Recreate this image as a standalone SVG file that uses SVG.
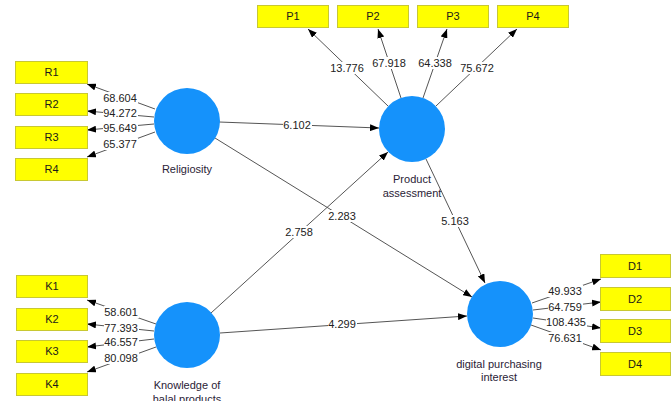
<svg xmlns="http://www.w3.org/2000/svg" width="671" height="401" viewBox="0 0 671 401">
<style>
.ind rect{fill:#ffff00;stroke:#c8c832;stroke-width:1}
.ind text{font-family:"Liberation Sans",Arial,sans-serif;font-size:11px;fill:#1a1a1a;text-anchor:middle}
.lv circle{fill:#1592fb}
.lv text{font-family:"Liberation Sans",Arial,sans-serif;font-size:11px;fill:#2a2236;text-anchor:middle}
.c line{stroke:#555;stroke-width:1;marker-end:url(#ah)}
.lb rect{fill:#fff}
.lb text{font-family:"Liberation Sans",Arial,sans-serif;font-size:11px;fill:#222;text-anchor:middle}
</style>
<defs>
<marker id="ah" markerUnits="userSpaceOnUse" markerWidth="9" markerHeight="7" refX="9" refY="3.5" orient="auto">
<path d="M0,0 L9,3.5 L0,7 z" fill="#000"/>
</marker>
</defs>
<rect width="671" height="401" fill="#fff"/>
<g id="connectors" class="c">
<line x1="155" y1="109" x2="87" y2="84"/>
<line x1="154" y1="117" x2="87" y2="111"/>
<line x1="154" y1="124" x2="87" y2="130"/>
<line x1="155" y1="132" x2="87" y2="157"/>
<line x1="156" y1="324" x2="87" y2="300"/>
<line x1="154" y1="331" x2="87" y2="324"/>
<line x1="154" y1="339" x2="87" y2="347"/>
<line x1="156" y1="347" x2="87" y2="372"/>
<line x1="388" y1="106" x2="308" y2="29"/>
<line x1="401" y1="98" x2="378" y2="29"/>
<line x1="423" y1="98" x2="447" y2="29"/>
<line x1="436" y1="106" x2="517" y2="29"/>
<line x1="532" y1="303" x2="601" y2="279"/>
<line x1="533" y1="310" x2="601" y2="302"/>
<line x1="533" y1="318" x2="601" y2="328"/>
<line x1="531" y1="325" x2="601" y2="350"/>
<line x1="219" y1="122" x2="379" y2="128"/>
<line x1="215" y1="138" x2="472" y2="297"/>
<line x1="211" y1="313" x2="388" y2="152"/>
<line x1="426" y1="159" x2="485" y2="283"/>
<line x1="220" y1="333" x2="467" y2="316"/>
</g>
<g id="labels" class="lb">
<rect x="103" y="92" width="35" height="12"/><text x="120" y="102">68.604</text>
<rect x="103" y="107" width="35" height="12"/><text x="120" y="117">94.272</text>
<rect x="103" y="122" width="35" height="12"/><text x="120" y="132">95.649</text>
<rect x="103" y="138" width="35" height="12"/><text x="120" y="148">65.377</text>
<rect x="104" y="306" width="35" height="12"/><text x="121" y="316">58.601</text>
<rect x="104" y="322" width="35" height="12"/><text x="121" y="332">77.393</text>
<rect x="104" y="336" width="35" height="12"/><text x="121" y="346">46.557</text>
<rect x="104" y="352" width="35" height="12"/><text x="121" y="362">80.098</text>
<rect x="330" y="62" width="35" height="12"/><text x="347" y="72">13.776</text>
<rect x="372" y="57" width="35" height="12"/><text x="389" y="67">67.918</text>
<rect x="418" y="57" width="35" height="12"/><text x="435" y="67">64.338</text>
<rect x="460" y="62" width="35" height="12"/><text x="477" y="72">75.672</text>
<rect x="548" y="285" width="35" height="12"/><text x="565" y="295">49.933</text>
<rect x="548" y="301" width="35" height="12"/><text x="565" y="311">64.759</text>
<rect x="546" y="316" width="41" height="12"/><text x="566" y="326">108.435</text>
<rect x="548" y="332" width="35" height="12"/><text x="565" y="342">76.631</text>
<rect x="283" y="119" width="29" height="12"/><text x="297" y="129">6.102</text>
<rect x="328" y="210" width="29" height="12"/><text x="342" y="220">2.283</text>
<rect x="285" y="226" width="29" height="12"/><text x="299" y="236">2.758</text>
<rect x="441" y="215" width="29" height="12"/><text x="455" y="225">5.163</text>
<rect x="328" y="318" width="29" height="12"/><text x="342" y="328">4.299</text>
</g>
<g id="R1" class="ind"><rect x="15.5" y="61.5" width="72" height="22"/><text x="51.5" y="76">R1</text></g>
<g id="R2" class="ind"><rect x="15.5" y="93.5" width="72" height="22"/><text x="51.5" y="108">R2</text></g>
<g id="R3" class="ind"><rect x="15.5" y="126.5" width="72" height="22"/><text x="51.5" y="141">R3</text></g>
<g id="R4" class="ind"><rect x="15.5" y="158.5" width="72" height="22"/><text x="51.5" y="173">R4</text></g>
<g id="K1" class="ind"><rect x="16.5" y="275.5" width="71" height="22"/><text x="52" y="290">K1</text></g>
<g id="K2" class="ind"><rect x="16.5" y="308.5" width="71" height="22"/><text x="52" y="323">K2</text></g>
<g id="K3" class="ind"><rect x="16.5" y="340.5" width="71" height="22"/><text x="52" y="355">K3</text></g>
<g id="K4" class="ind"><rect x="16.5" y="373.5" width="71" height="22"/><text x="52" y="388">K4</text></g>
<g id="P1" class="ind"><rect x="257.5" y="5.5" width="71" height="22"/><text x="293" y="20">P1</text></g>
<g id="P2" class="ind"><rect x="337.5" y="5.5" width="71" height="22"/><text x="373" y="20">P2</text></g>
<g id="P3" class="ind"><rect x="417.5" y="5.5" width="71" height="22"/><text x="453" y="20">P3</text></g>
<g id="P4" class="ind"><rect x="497.5" y="5.5" width="71" height="22"/><text x="533" y="20">P4</text></g>
<g id="D1" class="ind"><rect x="600.5" y="254.5" width="70" height="23"/><text x="635" y="270">D1</text></g>
<g id="D2" class="ind"><rect x="600.5" y="287.5" width="70" height="23"/><text x="635" y="303">D2</text></g>
<g id="D3" class="ind"><rect x="600.5" y="319.5" width="70" height="23"/><text x="635" y="335">D3</text></g>
<g id="D4" class="ind"><rect x="600.5" y="352.5" width="70" height="23"/><text x="635" y="368">D4</text></g>
<g id="religiosity" class="lv"><circle cx="187" cy="121" r="33"/><text x="187" y="173">Religiosity</text></g>
<g id="product" class="lv"><circle cx="412" cy="129" r="33"/><text x="412" y="183">Product</text><text x="412" y="197">assessment</text></g>
<g id="knowledge" class="lv"><circle cx="187" cy="335" r="33"/><text x="187" y="389">Knowledge of</text><text x="187" y="403">halal products</text></g>
<g id="digital" class="lv"><circle cx="500" cy="314" r="33"/><text x="499" y="368">digital purchasing</text><text x="499" y="381">interest</text></g>
</svg>
